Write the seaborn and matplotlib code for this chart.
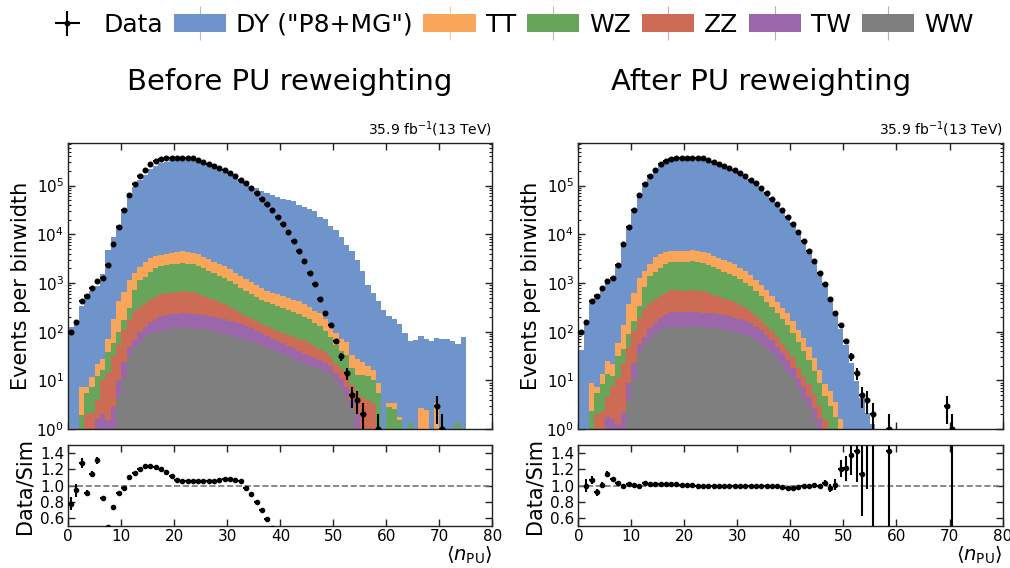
import numpy as np
import pandas as pd
import matplotlib
matplotlib.use("Agg")
import matplotlib.pyplot as plt
import matplotlib.patches as mpatches
from matplotlib.lines import Line2D
from matplotlib.ticker import LogLocator, NullFormatter, MultipleLocator, NullLocator
import seaborn as sns

# Pile-up bins: unit width from 0 to 75
n_bins = 75
centers = np.arange(n_bins) + 0.5

# Observed events per bin
data_counts = [
    98, 155, 436, 550, 794, 1120, 1290, 2340, 6460, 14100,
    30900, 64600, 107000, 158000, 209000, 275000, 316000, 347000, 363000, 376000,
    376000, 376000, 372000, 363000, 331000, 309000, 282000, 251000, 229000, 209000,
    182000, 158000, 132000, 112000, 89100, 70800, 53700, 41700, 30900, 22400,
    16200, 11200, 7410, 4570, 2820, 1620, 933, 468, 240, 135,
    63, 31, 14, 5, 4, 2, 0, 0, 1, 0,
    0, 0, 0, 0, 0, 0, 0, 0, 0, 3,
    1, 0, 0, 0, 0,
]

# Simulation before pile-up reweighting
dy_before = [
    126, 165, 333, 597, 684, 833, 1508, 4709, 8544, 15083,
    31239, 57052, 90615, 128511, 165746, 218564, 253269, 282998, 306319, 331531,
    347000, 350100, 349900, 341500, 311300, 290800, 262900, 234000, 211500, 190400,
    166600, 146100, 123100, 114300, 98000, 87600, 75900, 70000, 63800, 57500,
    53700, 51300, 46800, 39800, 36300, 32400, 29500, 22900, 20000, 14500,
    12300, 8900, 6000, 4400, 2950, 1700, 910, 620, 420, 280,
    205, 175, 140, 93, 63, 68, 79, 69, 63, 72,
    69, 72, 63, 54, 79,
]
tt_before = [
    0, 0, 5.5, 2.0, 4.3, 10, 12, 32, 128, 317,
    487, 846, 861, 941, 1405, 1538, 1636, 1563, 1637, 1714,
    1853, 1941, 1853, 1770, 1651, 1472, 1312, 1169, 1042, 929,
    809, 689, 586, 510, 434, 378, 329, 294, 268, 250,
    228, 219, 200, 188, 168, 146, 118, 108, 81, 66,
    41, 32, 29, 15, 15, 11.4, 8, 6, 3.3, 0,
    0.5, 0.8, 0.3, 0, 0, 0, 2.7, 2.5, 0, 2.5,
    0, 0, 0, 0, 0,
]
wz_before = [
    0, 0, 1.5, 3.4, 5.3, 8, 6, 25, 27, 46,
    67, 128, 467, 824, 969, 1251, 1470, 1650, 1727, 1824,
    1866, 1954, 1851, 1753, 1636, 1445, 1277, 1138, 1006, 896,
    772, 651, 549, 478, 403, 347, 302, 269, 248, 234,
    214, 195, 178, 157, 136, 119, 100, 87, 67, 49,
    30, 23, 20, 10, 7.4, 8.1, 8, 6.8, 5.4, 0,
    2.9, 2.6, 1.5, 0, 1.3, 0, 0, 0, 0, 1.0,
    0, 0, 0, 1.3, 0,
]
zz_before = [
    0, 0, 0.4, 2.0, 1.5, 2.4, 8, 12.5, 28, 44,
    83, 125, 190, 224, 254, 289, 339, 380, 398, 402,
    412, 436, 421, 412, 374, 326, 287, 243, 216, 185,
    158, 127, 104, 85, 69, 61, 52, 48, 43, 40,
    37, 36, 33, 32, 32, 27, 22, 19, 15, 10,
    8, 6.5, 5.6, 4, 3.6, 4.5, 4, 3.2, 0, 0,
    0, 0, 0, 0, 0, 0, 0, 0, 0, 0,
    0, 0, 0, 0, 0,
]
tw_before = [
    0, 0, 0, 0, 0.6, 1.6, 2, 1.5, 2.9, 5.4,
    13, 16, 21, 42, 47, 69, 86, 104, 112, 112,
    114, 123, 123, 117, 114, 112, 107, 102, 93, 87,
    81, 76, 67, 61, 54, 47, 41, 34, 30, 27,
    23, 20, 18, 15, 13, 12, 10, 9, 8, 6,
    4, 3.5, 2.8, 1.2, 2, 0, 0, 0, 0, 0,
    0, 0, 0, 0, 0, 0, 0, 0, 0, 0,
    0, 0, 0, 0, 0,
]
ww_before = [
    0, 0, 0, 0, 0, 0, 0, 0, 0, 4.6,
    11, 33, 46, 58, 79, 89, 100, 105, 107, 117,
    120, 117, 117, 117, 115, 112, 107, 102, 98, 91,
    85, 79, 74, 68, 63, 58, 52, 47, 42, 38,
    35, 31, 28, 25, 22, 20, 19, 17, 15, 14,
    10, 7, 4.6, 2.8, 0, 0, 0, 0, 0, 0,
    0, 0, 0, 0, 0, 0, 0, 0, 0, 0,
    0, 0, 0, 0, 0,
]

# Simulation after pile-up reweighting
dy_after = [
    42, 155, 398, 594, 773, 957, 1172, 2215, 6322, 13429,
    29965, 63325, 102108, 152413, 201541, 265652, 305406, 337375, 353021, 367672,
    367673, 369300, 367400, 358600, 326900, 305400, 280100, 250600, 227600, 208700,
    181700, 157800, 131800, 111400, 88600, 70500, 53650, 41690, 31090, 22760,
    16530, 11290, 7340, 4540, 2790, 1604, 898, 476, 234, 110,
    52, 22.6, 9.8, 4.4, 2.1, 1.25, 0, 0, 0.7, 0,
    0, 0, 0, 0, 0, 0, 0, 0, 0, 0,
    0.3, 0, 0, 0, 0,
]
tt_after = [
    0, 0, 6.6, 2.0, 4.9, 11.5, 9.4, 26, 95, 282,
    468, 939, 973, 1120, 1714, 1876, 1980, 1860, 1883, 1903,
    1964, 2038, 1946, 1859, 1734, 1546, 1397, 1251, 1120, 1018,
    882, 744, 627, 497, 392, 302, 234, 175, 131, 100,
    71, 48, 32, 22, 13, 7.3, 3.7, 3, 1.8, 1.0,
    0, 0, 0, 0, 0, 0, 0, 0, 0, 0,
    0, 0, 0, 0, 0, 0, 0, 0, 0, 0,
    0, 0, 0, 0, 0,
]
wz_after = [
    0, 0, 1.8, 3.4, 6, 9.2, 4.7, 20, 20, 41,
    64, 142, 528, 981, 1182, 1526, 1779, 1964, 1986, 2025,
    1978, 2052, 1944, 1841, 1718, 1517, 1360, 1218, 1081, 982,
    841, 703, 587, 466, 364, 278, 214, 160, 122, 94,
    66, 43, 28, 18, 10.6, 6, 3.1, 2.5, 1.5, 0.6,
    0, 0, 0, 0, 0, 0, 0, 0, 0, 0,
    0, 0, 0, 0, 0, 0, 0, 0, 0, 0,
    0, 0, 0, 0, 0,
]
zz_after = [
    0, 0, 0.5, 2.0, 1.7, 2.8, 6.2, 10, 21, 39,
    80, 139, 215, 267, 310, 353, 410, 452, 458, 446,
    437, 458, 442, 433, 393, 342, 306, 260, 232, 203,
    172, 137, 111, 83, 62, 49, 37, 29, 21, 16,
    11.5, 8, 5.2, 3.7, 2.5, 1.35, 0.7, 0.5, 0.3, 0,
    0, 0, 0, 0, 0, 0, 0, 0, 0, 0,
    0, 0, 0, 0, 0, 0, 0, 0, 0, 0,
    0, 0, 0, 0, 0,
]
tw_after = [
    0, 0, 0, 0, 0.7, 1.8, 1.6, 1.2, 2.1, 4.8,
    12.5, 18, 24, 50, 57, 84, 104, 124, 129, 124,
    121, 129, 129, 123, 120, 118, 114, 109, 100, 95,
    88, 82, 72, 59, 49, 38, 29, 20, 15, 11,
    7, 4.4, 2.8, 1.7, 1.0, 0.6, 0.3, 0, 0, 0,
    0, 0, 0, 0, 0, 0, 0, 0, 0, 0,
    0, 0, 0, 0, 0, 0, 0, 0, 0, 0,
    0, 0, 0, 0, 0,
]
ww_after = [
    0, 0, 0, 0, 0, 0, 0, 0, 0, 4.1,
    10.6, 37, 52, 69, 96, 109, 121, 125, 123, 130,
    127, 123, 123, 123, 121, 118, 114, 109, 105, 100,
    93, 85, 79, 66, 57, 46, 37, 28, 21, 15,
    11, 6.8, 4.4, 2.9, 1.7, 1.0, 0.6, 0, 0, 0,
    0, 0, 0, 0, 0, 0, 0, 0, 0, 0,
    0, 0, 0, 0, 0, 0, 0, 0, 0, 0,
    0, 0, 0, 0, 0,
]

# Processes listed top of stack first; seaborn stacks the last level at the bottom
process_order = ["DY", "TT", "WZ", "ZZ", "TW", "WW"]
legend_names = {"DY": 'DY ("P8+MG")', "TT": "TT", "WZ": "WZ",
                "ZZ": "ZZ", "TW": "TW", "WW": "WW"}
palette = {
    "DY": "#6f94cc",
    "TT": "#f9a65a",
    "WZ": "#66a55a",
    "ZZ": "#cd6b55",
    "TW": "#9b66aa",
    "WW": "#7f7f7f",
}

samples = {
    "before": {"DY": dy_before, "TT": tt_before, "WZ": wz_before,
               "ZZ": zz_before, "TW": tw_before, "WW": ww_before},
    "after": {"DY": dy_after, "TT": tt_after, "WZ": wz_after,
              "ZZ": zz_after, "TW": tw_after, "WW": ww_after},
}

sns.set_theme(style="ticks")
plt.rcParams.update({
    "font.family": ["DejaVu Sans"],
    "text.color": "black",
    "axes.labelcolor": "black",
    "axes.edgecolor": "#222222",
    "axes.linewidth": 1.0,
    "xtick.color": "#222222",
    "ytick.color": "#222222",
    "xtick.labelcolor": "black",
    "ytick.labelcolor": "black",
    "xtick.labelsize": 11,
    "ytick.labelsize": 11,
    "xtick.major.pad": 2.5,
    "ytick.major.pad": 3,
})

fig = plt.figure(figsize=(10.1, 5.68), dpi=100)

data = np.asarray(data_counts, dtype=float)
has_data = data > 0


def style_axis(ax):
    ax.tick_params(which="both", direction="in", top=True, right=True)
    ax.tick_params(which="major", length=5, width=1)
    ax.tick_params(which="minor", length=2.5, width=0.8)
    ax.xaxis.set_major_locator(MultipleLocator(10))
    ax.xaxis.set_minor_locator(NullLocator())
    ax.set_xlim(0, 80)


def draw_panel(left, key):
    ax = fig.add_axes([left, 0.2447, 0.420, 0.504])
    rax = fig.add_axes([left, 0.0739, 0.420, 0.1426])
    mc = samples[key]

    frames = []
    for proc in process_order:
        frames.append(pd.DataFrame({
            "npu": centers,
            "events": np.asarray(mc[proc], dtype=float),
            "process": proc,
        }))
    df = pd.concat(frames, ignore_index=True)

    ax.set_yscale("log")
    sns.histplot(data=df, x="npu", weights="events", hue="process",
                 hue_order=process_order, multiple="stack",
                 bins=n_bins, binrange=(0, n_bins),
                 element="step", fill=True, palette=palette, alpha=1.0,
                 linewidth=0, legend=False, ax=ax)

    eb = ax.errorbar(centers[has_data], data[has_data],
                     yerr=np.sqrt(data[has_data]), xerr=0.5,
                     fmt="o", color="black", ms=3.3, elinewidth=1.5,
                     capsize=0, zorder=5)

    style_axis(ax)
    ax.set_ylim(1, 7.6e5)
    ax.yaxis.set_major_locator(LogLocator(base=10, numticks=10))
    ax.yaxis.set_minor_locator(LogLocator(base=10, subs=np.arange(2, 10), numticks=12))
    ax.yaxis.set_minor_formatter(NullFormatter())
    ax.tick_params(axis="x", labelbottom=False)
    ax.set_xlabel("")
    ax.set_ylabel("Events per binwidth", fontsize=15)
    ax.text(1.0, 1.012, r"35.9 fb$^{-1}$(13 TeV)", transform=ax.transAxes,
            ha="right", va="bottom", fontsize=10)

    # Data over total simulation
    total = np.zeros_like(data)
    for proc in process_order:
        total += np.asarray(mc[proc], dtype=float)
    ok = total > 0
    ratio = data[ok] / total[ok]
    ratio_err = np.sqrt(data[ok]) / total[ok]
    rax.axhline(1.0, color="#777777", ls="--", lw=1.2, zorder=1)
    rax.errorbar(centers[ok], ratio, yerr=ratio_err, xerr=0.5, fmt="o",
                 color="black", ms=3, elinewidth=1.5, capsize=0, zorder=5)
    style_axis(rax)
    rax.set_ylim(0.5, 1.5)
    rax.set_yticks([0.6, 0.8, 1.0, 1.2, 1.4])
    rax.set_ylabel("Data/Sim", fontsize=15)
    rax.set_xlabel(r"$\langle n_{\mathrm{PU}}\rangle$", fontsize=14,
                   loc="right", labelpad=0)

    return ax, eb


ax_l, eb = draw_panel(0.0676, "before")
ax_r, _ = draw_panel(0.5726, "after")

fig.text(0.287, 0.856, "Before PU reweighting", ha="center", va="center", fontsize=21)
fig.text(0.754, 0.856, "After PU reweighting", ha="center", va="center", fontsize=21)

# Legend entries: filled patch with the faint uncertainty tick of each sample
handles = [eb]
for p in process_order:
    patch = mpatches.Patch(facecolor=palette[p], edgecolor="none")
    tick = Line2D([], [], linestyle="none", marker="|", markersize=24,
                  markeredgewidth=0.8, color=palette[p], alpha=0.6)
    handles.append((patch, tick))
labels = ["Data"] + [legend_names[p] for p in process_order]
fig.legend(handles, labels, loc="center", bbox_to_anchor=(0.5025, 0.956),
           ncol=7, frameon=False, fontsize=18, handlelength=2.1,
           handletextpad=0.4, columnspacing=0.42, borderaxespad=0)

fig.savefig("out.png", dpi=100)
